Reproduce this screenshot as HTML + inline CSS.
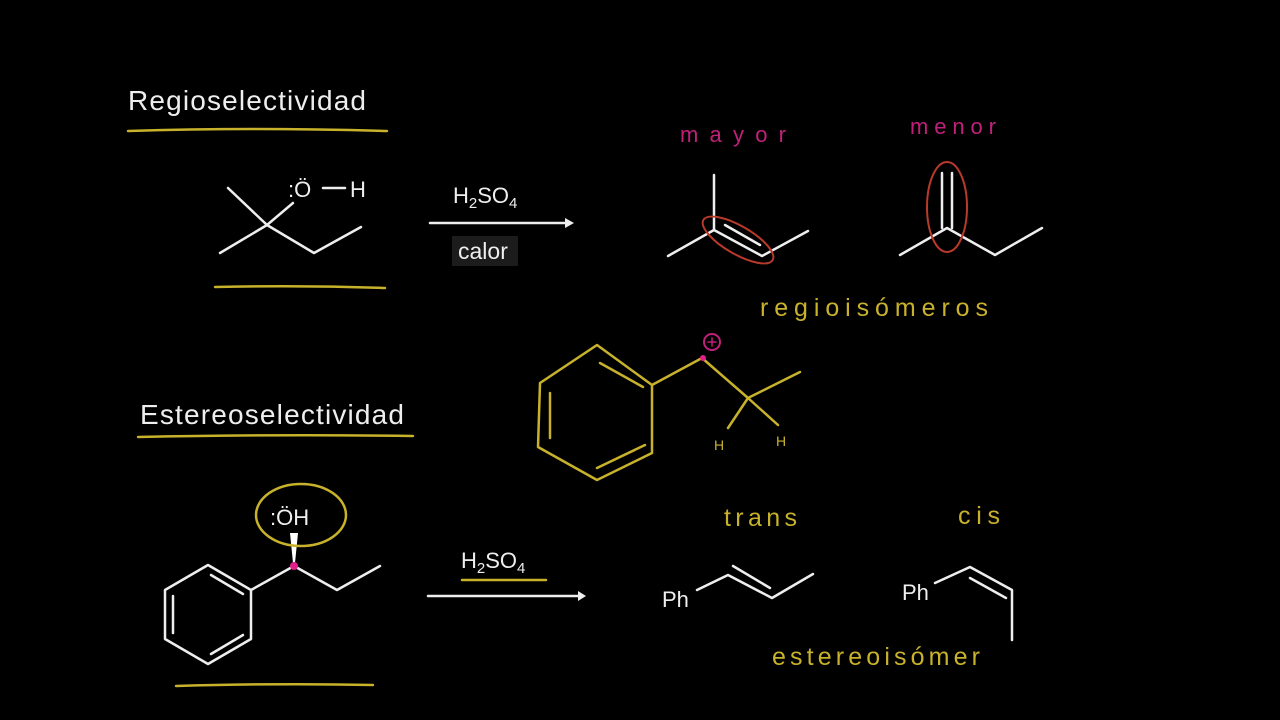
<!DOCTYPE html>
<html><head><meta charset="utf-8"><style>
html,body{margin:0;padding:0;background:#000;}
svg{display:block;}
text{font-family:"Liberation Sans",sans-serif;}
</style></head><body>
<svg width="1280" height="720" viewBox="0 0 1280 720" xmlns="http://www.w3.org/2000/svg">
<rect width="1280" height="720" fill="#000"/>
<g fill="none" stroke-linecap="round" stroke-linejoin="round">
<g stroke="#c8b22c" stroke-width="2.5">
<path d="M128 131 Q250 127 387 131"/>
<path d="M215 287 Q300 285 385 288"/>
<path d="M138 437 Q280 434 413 436"/>
<path d="M176 686 Q280 683 373 685"/>
<path d="M462 580 L546 580"/>
</g>
<g stroke="#eee" stroke-width="2.5">
<path d="M228 188 L267 225 L220 253"/>
<path d="M267 225 L293 203"/>
<path d="M267 225 L314 253 L361 227"/>
<path d="M323 188 L345 188"/>
<path d="M430 223 L565 223"/>
<path d="M668 256 L714 230 L762 256 L808 231"/>
<path d="M714 230 L714 175"/>
<path d="M725 225 L760 245"/>
<path d="M900 255 L947 228 L995 255 L1042 228"/>
<path d="M942 228 L942 173 M952 228 L952 173"/>
<path d="M208 565 L251 590 L251 639 L208 664 L165 639 L165 590 Z"/>
<path d="M211 575 L243 594 M243 635 L211 654 M173 596 L173 633"/>
<path d="M251 590 L294 566 L337 590 L380 566"/>
<path d="M428 596 L578 596"/>
<path d="M697 590 L728 575 L772 598 L813 574"/>
<path d="M733 566 L770 588"/>
<path d="M935 583 L970 567 L1012 590 L1012 640"/>
<path d="M970 578 L1006 598"/>
</g>
<polygon points="565,218 574,223 565,228" fill="#eee"/>
<polygon points="578,591 586,596 578,601" fill="#eee"/>
<polygon points="290,533 298,533 295,563 293,563" fill="#fff"/>
<ellipse cx="738" cy="240" rx="40" ry="14" transform="rotate(30 738 240)" stroke="#b83a2a" stroke-width="2"/>
<ellipse cx="947" cy="207" rx="20" ry="45" stroke="#b83a2a" stroke-width="2"/>
<g stroke="#c8b22c" stroke-width="2.5">
<path d="M597 345 L652 385 L652 453 L597 480 L538 447 L540 383 Z"/>
<path d="M600 363 L643 387 M550 393 L550 438 M597 468 L645 445"/>
<path d="M652 385 L702 358 L748 398 L800 372"/>
<path d="M748 398 L728 428 M748 398 L778 425"/>
<ellipse cx="301" cy="515" rx="45" ry="31"/>
</g>
<circle cx="712" cy="342" r="8" stroke="#c0207a" stroke-width="2"/>
<path d="M708 342 L716 342 M712 338 L712 346" stroke="#c0207a" stroke-width="1.5"/>
</g>
<circle cx="703" cy="358" r="3" fill="#e0208a"/>
<circle cx="294" cy="566" r="4" fill="#e0208a"/>
<text x="128" y="110" font-size="28" fill="#eee" textLength="238">Regioselectividad</text>
<text x="140" y="424" font-size="28" fill="#eee" textLength="264">Estereoselectividad</text>
<text x="288" y="197" font-size="22" fill="#eee">:Ö</text>
<text x="350" y="197" font-size="22" fill="#eee">H</text>
<text x="453" y="203" font-size="22" fill="#eee">H<tspan font-size="15" dy="5">2</tspan><tspan dy="-5">SO</tspan><tspan font-size="15" dy="5">4</tspan></text>
<rect x="452" y="236" width="66" height="30" fill="#1c1c1c"/>
<text x="458" y="259" font-size="23" fill="#eee">calor</text>
<text x="461" y="568" font-size="22" fill="#eee">H<tspan font-size="15" dy="5">2</tspan><tspan dy="-5">SO</tspan><tspan font-size="15" dy="5">4</tspan></text>
<text x="270" y="525" font-size="22" fill="#eee">:ÖH</text>
<text x="662" y="607" font-size="22" fill="#eee">Ph</text>
<text x="902" y="600" font-size="22" fill="#eee">Ph</text>
<g font-size="25" fill="#c8b22c">
<text x="760" y="316" textLength="228">regioisómeros</text>
<text x="724" y="526" textLength="73">trans</text>
<text x="958" y="524" textLength="42">cis</text>
<text x="772" y="665" textLength="208">estereoisómer</text>
<text x="714" y="450" font-size="14">H</text>
<text x="776" y="446" font-size="14">H</text>
</g>
<g font-size="22" fill="#c0207a">
<text x="680" y="142" textLength="106">mayor</text>
<text x="910" y="134" textLength="86">menor</text>
</g>
</svg>
</body></html>
